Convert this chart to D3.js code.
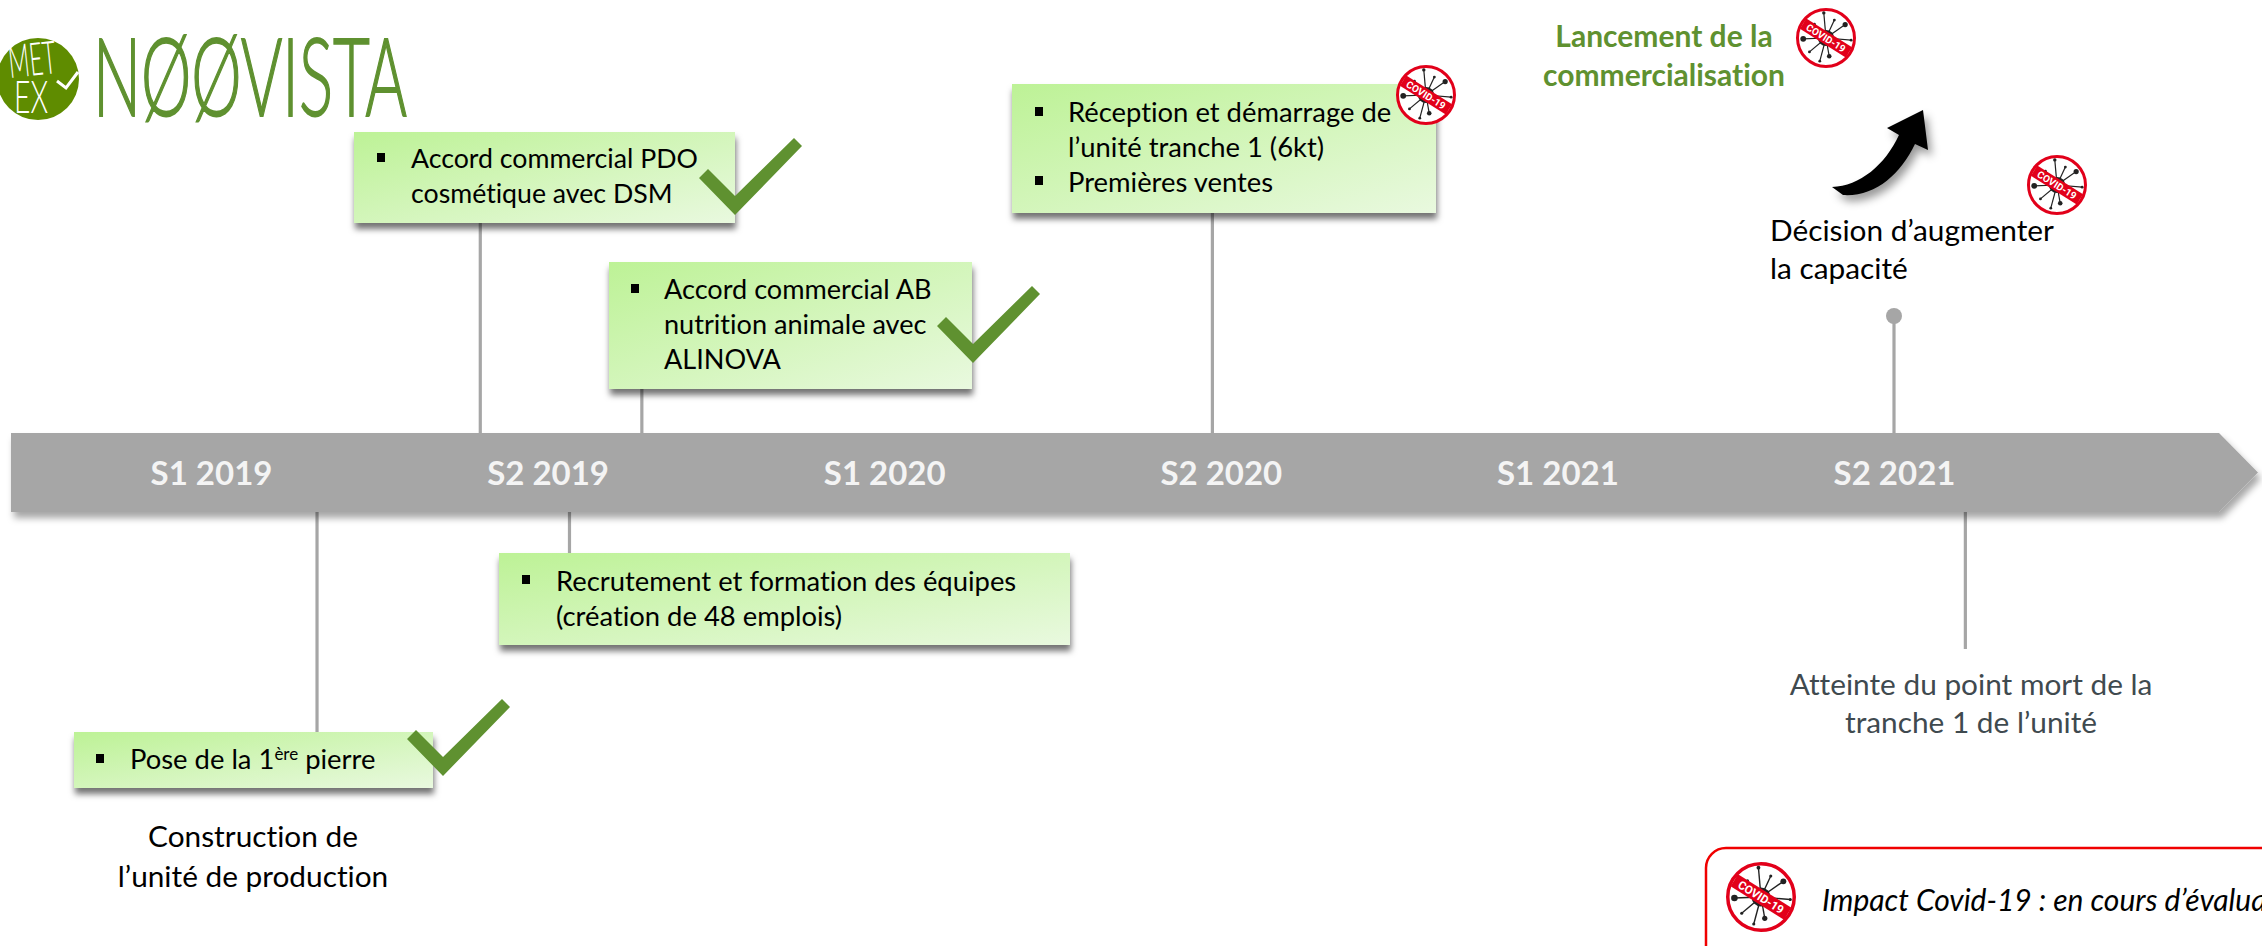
<!DOCTYPE html>
<html lang="fr"><head><meta charset="utf-8">
<script src="https://cdn.jsdelivr.net/npm/d3@7"></script>
<style>html,body{margin:0;padding:0;background:#fff;overflow:hidden}svg{display:block}text{font-family:Lato,"Noto Sans",sans-serif;font-variant-ligatures:none}</style>
</head><body>
<script>
// ---- data ----
const periods = ["S1 2019","S2 2019","S1 2020","S2 2020","S1 2021","S2 2021"];
// event positions, in semesters counted from the centre of S1 2019
const eventNames = ["Pierre","PDO","AB","Recrutement","Réception","Décision","Point mort"];
const eventTimes = [0.315,0.80,1.28,1.065,2.975,5.0,5.212];
const pdoLines = ["Accord commercial PDO","cosmétique avec DSM"];
const abLines = ["Accord commercial AB","nutrition animale avec","ALINOVA"];
const recrutLines = ["Recrutement et formation des équipes","(création de 48 emplois)"];
const receptionLines = ["Réception et démarrage de","l’unité tranche 1 (6kt)","Premières ventes"];
const constructionLines = ["Construction de","l’unité de production"];
const lancementLines = ["Lancement de la","commercialisation"];
const decisionLines = ["Décision d’augmenter","la capacité"];
const pointMortLines = ["Atteinte du point mort de la","tranche 1 de l’unité"];
const legendText = "Impact Covid-19 : en cours d’évaluation";

// ---- setup ----
const W=2262,H=946;
const svg=d3.select("body").append("svg").attr("width",W).attr("height",H);
const defs=svg.append("defs");
const grad=defs.append("linearGradient").attr("id","boxFill").attr("x1",0).attr("y1",0).attr("x2",1).attr("y2",1);
grad.append("stop").attr("offset",0).attr("stop-color","#bdf296");
grad.append("stop").attr("offset",1).attr("stop-color","#e9f9df");
function shadow(id,dx,dy,sd,op){
  const f=defs.append("filter").attr("id",id).attr("x","-10%").attr("y","-30%").attr("width","125%").attr("height","170%");
  f.append("feDropShadow").attr("dx",dx).attr("dy",dy).attr("stdDeviation",sd).attr("flood-color","#000").attr("flood-opacity",op);
}
shadow("boxShadow",1,6,3,.55);
shadow("barShadow",3,6,3.5,.35);
shadow("arrowShadow",4,6,4,.4);

const x=d3.scaleLinear().domain([0,5]).range([211,1894]);
const band=d3.scalePoint().domain(periods).range([x(0),x(5)]);
const GREY="#a6a6a6",GREEN="#5f9130";
const when=n=>x(eventTimes[eventNames.indexOf(n)]);

// ---- leader lines ----
const leaders=[["PDO",223,433],["AB",389,433],["Réception",213,433],["Décision",316,433],["Pierre",512,732],["Recrutement",512,553],["Point mort",512,649]];
svg.append("g").selectAll("line").data(leaders).join("line")
 .attr("x1",d=>when(d[0])).attr("x2",d=>when(d[0])).attr("y1",d=>d[1]).attr("y2",d=>d[2])
 .attr("stroke",GREY).attr("stroke-width",3.2);
svg.append("circle").attr("cx",when("Décision")).attr("cy",316).attr("r",8).attr("fill",GREY);

// ---- timeline bar ----
svg.append("path").attr("d","M11,433H2219L2258,472.5L2219,512H11Z").attr("fill",GREY).attr("filter","url(#barShadow)");
const axis=d3.axisBottom(band).tickSize(0).tickPadding(0);
const gAxis=svg.append("g").attr("transform","translate(0,485)").call(axis);
gAxis.select(".domain").remove();
gAxis.selectAll("text").attr("y",0).attr("dy",0).attr("fill","#f4f4f4").attr("font-size",33).attr("font-weight",700).style("font-family","Lato");

// ---- text helper ----
const BODY=27.4, FREE=29.8;
function lines(g,arr,xp,ys,o={}){
  arr.forEach((t,i)=>g.append("text").attr("x",xp).attr("y",ys[i]).text(t)
    .attr("font-size",o.size||BODY).attr("fill",o.fill||"#000").attr("text-anchor",o.anchor||"start")
    .attr("font-weight",o.weight||400));
}
function box(bx,by,bw,bh){
  return svg.append("rect").attr("x",bx).attr("y",by).attr("width",bw).attr("height",bh)
    .attr("fill","url(#boxFill)").attr("filter","url(#boxShadow)");
}
function bullet(bx,by){svg.append("rect").attr("x",bx-4).attr("y",by-5).attr("width",8).attr("height",9).attr("fill","#000");}
function check(cx,cy){
  const pts=[[0,0],[-36,-37],[-27,-46],[0,-19],[59,-77],[67,-69]];
  svg.append("polygon").attr("points",pts.map(p=>[cx+p[0],cy+p[1]].join(",")).join(" ")).attr("fill",GREEN);
}
const spikes=[[-95,.84,.04],[-65,.66,.03],[-35,.78,.07],[5,.84,.03],[40,.7,.03],[80,.62,.06],[105,.8,.03],[140,.72,.03],[178,.76,.08],[-130,.6,.03]];
function covid(cx,cy,r){
  const g=svg.append("g").attr("transform",`translate(${cx},${cy})`);
  g.append("circle").attr("r",r*.95).attr("fill","#fff").attr("stroke","#e2001a").attr("stroke-width",r*.1);
  g.append("circle").attr("r",r*.27).attr("fill","#222");
  spikes.forEach(s=>{
    const a=s[0]*Math.PI/180,ex=Math.cos(a)*r*s[1],ey=Math.sin(a)*r*s[1];
    g.append("line").attr("x2",ex).attr("y2",ey).attr("stroke","#222").attr("stroke-width",r*.04);
    g.append("circle").attr("cx",ex).attr("cy",ey).attr("r",r*s[2]+.5).attr("fill","#222");
  });
  const b=g.append("g").attr("transform","rotate(32)");
  b.append("rect").attr("x",-r*.9).attr("y",-r*.2).attr("width",r*1.8).attr("height",r*.4).attr("fill","#e2001a");
  b.append("text").attr("text-anchor","middle").attr("y",r*.12).attr("fill","#fff").attr("font-size",r*.33).attr("font-weight",700)
   .style("font-family","Roboto").text("COVID-19");
}

// ---- boxes ----
box(354,132,381,91); bullet(381,158); lines(svg,pdoLines,411,[168,203],{size:26.7}); check(735,215);
box(609,262,363,127); bullet(635,289); lines(svg,abLines,664,[299,334,369],{size:27.1}); check(973,363);
box(1012,84,424,129); bullet(1039,112); bullet(1039,181); lines(svg,receptionLines,1068,[122,157,192]); covid(1426,95,30);
box(499,553,571,92); bullet(526,580); lines(svg,recrutLines,556,[591,626]);
box(74,732,359,56); bullet(100,759);
const pose=svg.append("text").attr("x",130).attr("y",769).attr("font-size",BODY).attr("fill","#000");
pose.append("tspan").text("Pose de la 1");
pose.append("tspan").attr("font-size",17).attr("dy",-9).text("ère");
pose.append("tspan").attr("dy",9).text(" pierre");
check(443,776);

// ---- free labels ----
lines(svg,constructionLines,253,[847,887],{anchor:"middle",size:FREE});
lines(svg,lancementLines,1664,[47,86],{anchor:"middle",size:30,weight:700,fill:GREEN});
covid(1826,38,30);
lines(svg,decisionLines,1770,[241,279],{size:FREE});
covid(2057,185,30);
lines(svg,pointMortLines,1971,[695,733],{anchor:"middle",size:FREE,fill:"#3f4a4f"});

// ---- growth arrow ----
svg.append("path").attr("d","M1832,187C1860,186 1885,165 1899,135L1887,128L1923,110L1928,150L1915,144C1900,175 1875,197 1843,195Z")
 .attr("fill","#000").attr("filter","url(#arrowShadow)");

// ---- legend ----
svg.append("rect").attr("x",1706).attr("y",848).attr("width",700).attr("height",160).attr("rx",20).attr("fill","#fff").attr("stroke","#f00000").attr("stroke-width",2.5);
covid(1761,897,35);
svg.append("text").attr("x",1822).attr("y",911).attr("font-size",30).attr("font-style","italic").attr("fill","#000").text(legendText);

// ---- logo ----
const logo=svg.append("g");
logo.append("circle").attr("cx",38).attr("cy",79).attr("r",41).attr("fill","#5f8c00");
logo.append("text").attr("x",10).attr("y",78).attr("font-size",46).attr("font-weight",300).attr("fill","#fff").attr("textLength",48).attr("lengthAdjust","spacingAndGlyphs").attr("transform","rotate(-6 10 78)").text("MET");
logo.append("text").attr("x",14).attr("y",113).attr("font-size",46).attr("font-weight",300).attr("fill","#fff").attr("textLength",34).attr("lengthAdjust","spacingAndGlyphs").text("EX");
logo.append("path").attr("d","M57,81L66,88L78,72").attr("fill","none").attr("stroke","#fff").attr("stroke-width",3);
logo.append("text").attr("x",93).attr("y",116).attr("font-size",108).attr("font-weight",300).attr("fill",GREEN).attr("stroke",GREEN).attr("stroke-width",1.8)
 .attr("textLength",314).attr("lengthAdjust","spacingAndGlyphs").text("NØØVISTA");
</script>
</body></html>
